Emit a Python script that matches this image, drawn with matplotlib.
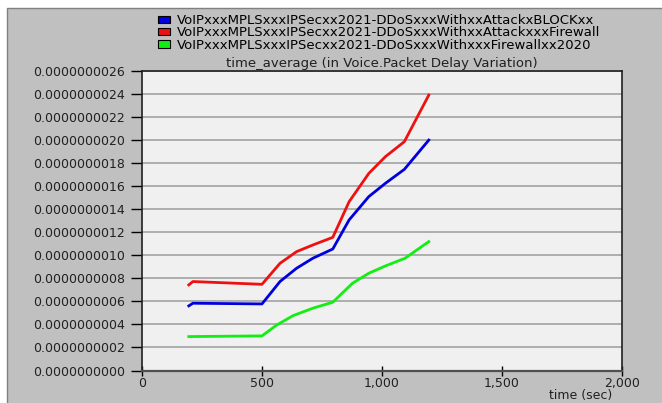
import numpy as np
import matplotlib
matplotlib.use("Agg")
import matplotlib.pyplot as plt
from matplotlib.patches import Patch, Rectangle
from matplotlib.ticker import FuncFormatter

# series values, units of 1e-9 s
t_blue = [195, 212, 500, 575, 644, 712, 795, 863, 945, 1014, 1093, 1195]
v_blue = [0.56, 0.583, 0.577, 0.771, 0.886, 0.973, 1.053, 1.305, 1.507, 1.622, 1.743, 1.997]

t_red = [195, 212, 500, 575, 644, 712, 795, 863, 945, 1014, 1093, 1195]
v_red = [0.742, 0.771, 0.747, 0.929, 1.03, 1.088, 1.154, 1.463, 1.708, 1.853, 1.983, 2.387]

t_green = [195, 500, 562, 630, 712, 795, 877, 945, 1014, 1096, 1195]
v_green = [0.294, 0.3, 0.395, 0.476, 0.54, 0.592, 0.756, 0.843, 0.906, 0.973, 1.117]

labels = ["VoIPxxxMPLSxxxIPSecxx2021-DDoSxxxWithxxAttackxBLOCKxx",
          "VoIPxxxMPLSxxxIPSecxx2021-DDoSxxxWithxxAttackxxxFirewall",
          "VoIPxxxMPLSxxxIPSecxx2021-DDoSxxxWithxxxFirewallxx2020"]
colors = ["#0000dd", "#ee1111", "#11ee11"]

x_ticks = [0, 500, 1000, 1500, 2000]
y_ticks = np.arange(0, 14) * 0.2e-9

plt.rcParams['font.family'] = ['DejaVu Sans']

fig = plt.figure(figsize=(6.62, 4.03), dpi=100, facecolor='white')
# gray panel with white outer strip
fig.patches.append(Rectangle((7/662, -0.01), 1, 1.01 - 8/403, transform=fig.transFigure,
                             facecolor='#c0c0c0', edgecolor='#808080', lw=1, zorder=-10))

ax = fig.add_axes([142/662, 32.5/403, 480/662, 300/403])
ax.set_facecolor('#f0f0f0')

for t, v, c in zip([t_blue, t_red, t_green], [v_blue, v_red, v_green], colors):
    ax.plot(t, np.array(v) * 1e-9, color=c, lw=2)

ax.set_xlim(0, 2000)
ax.set_ylim(0, 2.6e-9)
ax.set_xticks(x_ticks)
ax.set_yticks(y_ticks)
ax.xaxis.set_major_formatter(FuncFormatter(lambda v, p: f"{int(v):,}"))
ax.yaxis.set_major_formatter(FuncFormatter(lambda v, p: f"{v:.10f}"))
ax.tick_params(axis='y', direction='out', length=8, width=1, pad=4, labelsize=9, labelcolor='#202020')
ax.tick_params(axis='x', direction='inout', length=7, width=1, pad=1, labelsize=9, labelcolor='#202020')

ax.yaxis.grid(True, color='#a8a8a8', lw=1.3)
ax.set_axisbelow(True)
for s in ['left', 'top', 'right']:
    ax.spines[s].set_color('#202020')
    ax.spines[s].set_linewidth(1.2)
ax.spines['bottom'].set_color('#505050')
ax.spines['bottom'].set_linewidth(1.6)

ax.set_title("time_average (in Voice.Packet Delay Variation)", fontsize=9.5, pad=2, color='#202020')
fig.text(612/662, 1 - 395/403, "time (sec)", ha='right', va='center', fontsize=9, color='#202020')

handles = [Patch(facecolor=c, edgecolor='black', lw=0.8) for c in colors]
fig.legend(handles, labels, loc='upper left', bbox_to_anchor=(158/662, 1 - 14/403),
           frameon=False, fontsize=9.5, handlelength=0.9, handleheight=0.5,
           handletextpad=0.5, labelspacing=-0.05, borderpad=0, borderaxespad=0)

fig.savefig("out.png", dpi=100, facecolor=fig.get_facecolor())
